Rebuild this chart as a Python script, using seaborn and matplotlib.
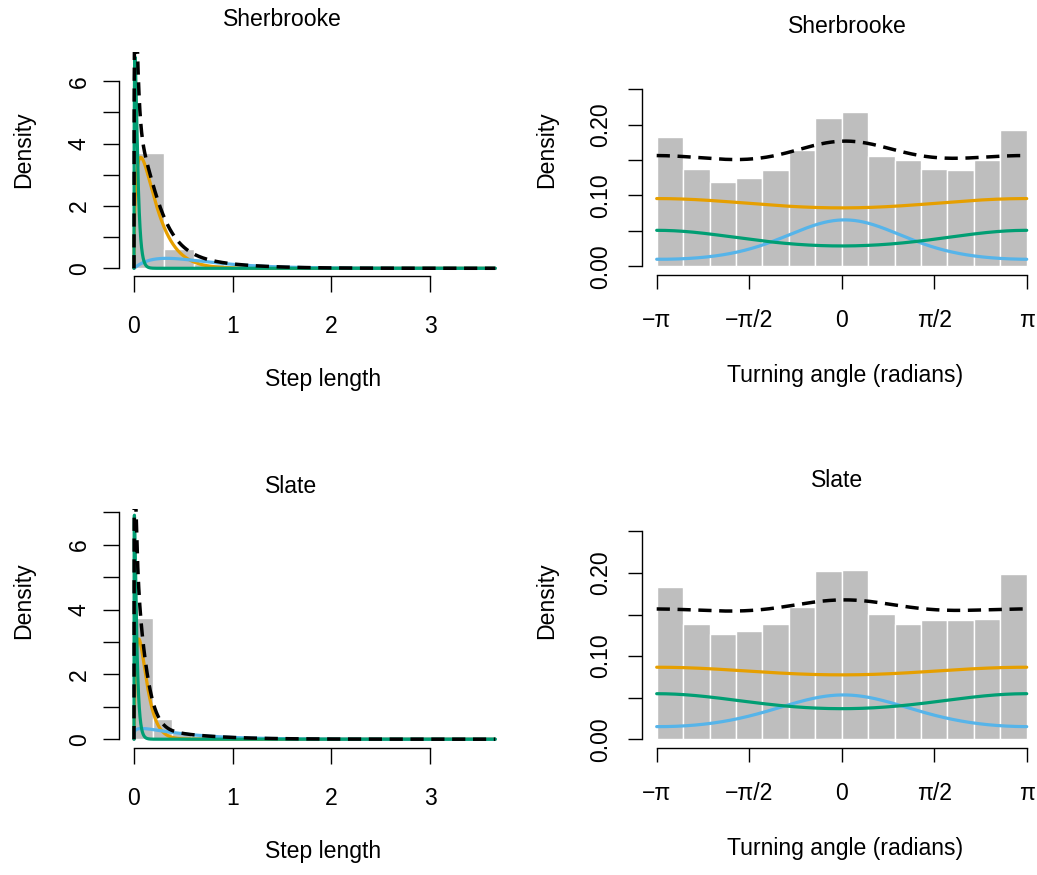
import math
import numpy as np
import pandas as pd
import matplotlib
matplotlib.use("Agg")
import matplotlib.pyplot as plt
import seaborn as sns

# ---------------------------------------------------------------- data
# Histogram heights (density scale)
sherbrooke_step_hist = [3.71, 0.63, 0.14, 0.06, 0.03, 0.02, 0.012, 0.01, 0.006, 0.005, 0.003, 0.003]
slate_step_hist = [3.73, 0.63, 0.20, 0.10, 0.06, 0.04, 0.03, 0.02, 0.015, 0.01,
                   0.008, 0.006, 0.005, 0.004, 0.003, 0.002, 0.002, 0.001, 0.001]
sherbrooke_angle_hist = [0.183, 0.138, 0.119, 0.125, 0.136, 0.164, 0.209,
                         0.218, 0.156, 0.150, 0.137, 0.136, 0.150, 0.193]
slate_angle_hist = [0.183, 0.138, 0.127, 0.130, 0.139, 0.159, 0.202,
                    0.204, 0.151, 0.139, 0.143, 0.143, 0.145, 0.199]
step_max = 3.66

# State order: orange, blue, green
state_colors = ["#E69F00", "#56B4E9", "#009E73"]

# Gamma step-length components: weight, shape, scale
sherbrooke_step_weight = [1.00, 0.287, 0.28]
sherbrooke_step_shape = [1.5, 2.0, 1.5]
sherbrooke_step_scale = [0.136, 0.33, 0.02]
slate_step_weight = [0.46, 0.204, 0.214]
slate_step_shape = [1.8, 1.2, 1.2]
slate_step_scale = [0.06, 0.40, 0.02]

# von Mises turning-angle components: weight, mean, concentration
sherbrooke_angle_weight = [0.559, 0.198, 0.245]
sherbrooke_angle_mean = [np.pi, 0.05, np.pi]
sherbrooke_angle_conc = [0.074, 0.944, 0.285]
slate_angle_weight = [0.515, 0.197, 0.285]
slate_angle_mean = [np.pi, 0.03, np.pi]
slate_angle_conc = [0.056, 0.627, 0.199]

step_ticks = [0, 1, 2, 3]
angle_ticks = [-np.pi, -np.pi / 2, 0, np.pi / 2, np.pi]
angle_tick_labels = ["\u2212\u03c0", "\u2212\u03c0/2", "0", "\u03c0/2", "\u03c0"]

# ---------------------------------------------------------------- style
sns.set_theme(style="ticks")
plt.rcParams["font.family"] = ["Liberation Sans", "DejaVu Sans"]
FS = 16.6
W, H = 1037, 875

fig = plt.figure(figsize=(W / 100, H / 100), dpi=100)
fig.patch.set_facecolor("white")


def gamma_pdf(x, k, theta):
    return x ** (k - 1) * np.exp(-x / theta) / (math.gamma(k) * theta ** k)


def vm_pdf(x, mu, kappa):
    return np.exp(kappa * np.cos(x - mu)) / (2 * np.pi * np.i0(kappa))


def make_axes(box):
    l, t, r, b = box
    ax = fig.add_axes([l / W, 1 - b / H, (r - l) / W, (b - t) / H])
    ax.set_facecolor("white")
    return ax


def frac(box, x, y):
    l, t, r, b = box
    return (x - l) / (r - l), (b - y) / (b - t)


def draw_hist(ax, edges, heights):
    centers = (edges[:-1] + edges[1:]) / 2
    df = pd.DataFrame({"value": centers, "height": heights})
    sns.histplot(data=df, x="value", weights="height", bins=list(edges),
                 stat="count", color="#BEBEBE", edgecolor="white",
                 linewidth=1.0, alpha=1.0, ax=ax)


def draw_curves(ax, grid, comps):
    total = np.zeros_like(grid)
    for dens, col in zip(comps, state_colors):
        total += dens
        sns.lineplot(x=grid, y=dens, color=col, linewidth=2.3,
                     estimator=None, sort=False, ax=ax)
    sns.lineplot(x=grid, y=total, color="black", linewidth=2.5,
                 linestyle=(0, (3.8, 2.2)), estimator=None, sort=False, ax=ax)


def decorate(ax, box, title, tpos, xlabel, xlpos, ylpos,
             xticks, xticklabels, yticks, yticklabels, ybounds, xbounds,
             tick_len, xpad, ypad):
    sns.despine(ax=ax)
    ax.spines["left"].set_bounds(*ybounds)
    ax.spines["bottom"].set_bounds(*xbounds)
    for s in ("left", "bottom"):
        ax.spines[s].set_linewidth(1.0)
        ax.spines[s].set_color("black")
    ax.set_xticks(xticks)
    ax.set_xticklabels(xticklabels)
    ax.set_yticks(yticks)
    ax.set_yticklabels(yticklabels)
    ax.tick_params(axis="both", direction="out", length=tick_len, width=1.0,
                   color="black", labelsize=FS, labelcolor="black")
    ax.tick_params(axis="x", pad=xpad)
    ax.tick_params(axis="y", pad=ypad)
    for lbl in ax.get_yticklabels():
        lbl.set_rotation(90)
        lbl.set_va("center")
    ax.grid(False)

    tx, ty = frac(box, *tpos)
    ax.set_title(title, x=tx, y=ty, va="baseline", pad=0, fontsize=FS, color="black")

    ax.set_xlabel(xlabel, fontsize=FS, color="black")
    lx, ly = frac(box, *xlpos)
    ax.xaxis.set_label_coords(lx, ly)
    ax.xaxis.label.set_va("baseline")

    ax.set_ylabel("Density", fontsize=FS, color="black")
    yx, yy = frac(box, *ylpos)
    ax.yaxis.set_label_coords(yx, yy)
    ax.yaxis.label.set_va("center")
    ax.yaxis.label.set_ha("center")


def step_panel(box, y0px, ypx_per_unit, hist, weights, shapes, scales,
               title, tpos, xlpos, ylpos, ymax_tick):
    ax = make_axes(box)
    l, t, r, b = box
    edges = np.linspace(0, step_max, len(hist) + 1)
    draw_hist(ax, edges, hist)
    grid = np.linspace(0, step_max, 6000)
    comps = [w * gamma_pdf(grid, k, th) for w, k, th in zip(weights, shapes, scales)]
    draw_curves(ax, grid, comps)
    ax.set_xlim((l - 134) / 98.7, (r - 134) / 98.7)
    ax.set_ylim((y0px - b) / ypx_per_unit, (y0px - t) / ypx_per_unit)
    yt = list(range(0, ymax_tick + 1))
    ytl = [str(v) if v % 2 == 0 else "" for v in yt]
    decorate(ax, box, title, tpos, "Step length", xlpos, ylpos,
             step_ticks, [str(v) for v in step_ticks], yt, ytl,
             (0, ymax_tick), (0, 3), 11.3, 16.8, 8.9)
    return ax


def angle_panel(box, y0px, ypx_per_unit, hist, weights, means, concs,
                title, tpos, xlpos, ylpos):
    ax = make_axes(box)
    l, t, r, b = box
    edges = np.linspace(-np.pi, np.pi, len(hist) + 1)
    draw_hist(ax, edges, hist)
    grid = np.linspace(-np.pi, np.pi, 1000)
    comps = [w * vm_pdf(grid, m, k) for w, m, k in zip(weights, means, concs)]
    draw_curves(ax, grid, comps)
    ax.set_xlim(-np.pi + (l - 656.7) / 58.9, np.pi + (r - 1026.7) / 58.9)
    ax.set_ylim((y0px - b) / ypx_per_unit, (y0px - t) / ypx_per_unit)
    yt = [0, 0.05, 0.10, 0.15, 0.20, 0.25]
    ytl = ["0.00", "", "0.10", "", "0.20", ""]
    decorate(ax, box, title, tpos, "Turning angle (radians)", xlpos, ylpos,
             angle_ticks, angle_tick_labels, yt, ytl,
             (0, 0.25), (-np.pi, np.pi), 9.8, 14.7, 11.8)
    return ax


TL = (119, 52, 520, 276)
BL = (119, 509, 520, 748)
TR = (641.7, 53, 1041.7, 275)
BR = (641.7, 509, 1041.7, 748)

step_panel(TL, 268.3, 31.17, sherbrooke_step_hist, sherbrooke_step_weight,
           sherbrooke_step_shape, sherbrooke_step_scale,
           "Sherbrooke", (282.7, 26), (323, 386), (24, 150), 6)
step_panel(BL, 739.2, 32.4, slate_step_hist, slate_step_weight,
           slate_step_shape, slate_step_scale,
           "Slate", (291, 493.3), (323, 858), (24, 601), 7)
angle_panel(TR, 266.3, 708.0, sherbrooke_angle_hist, sherbrooke_angle_weight,
            sherbrooke_angle_mean, sherbrooke_angle_conc,
            "Sherbrooke", (847.5, 32.7), (845, 381.5), (547, 150))
angle_panel(BR, 739.3, 832.0, slate_angle_hist, slate_angle_weight,
            slate_angle_mean, slate_angle_conc,
            "Slate", (837, 487.3), (845, 854.5), (547, 601))

fig.savefig("out.png", dpi=100, facecolor="white")
